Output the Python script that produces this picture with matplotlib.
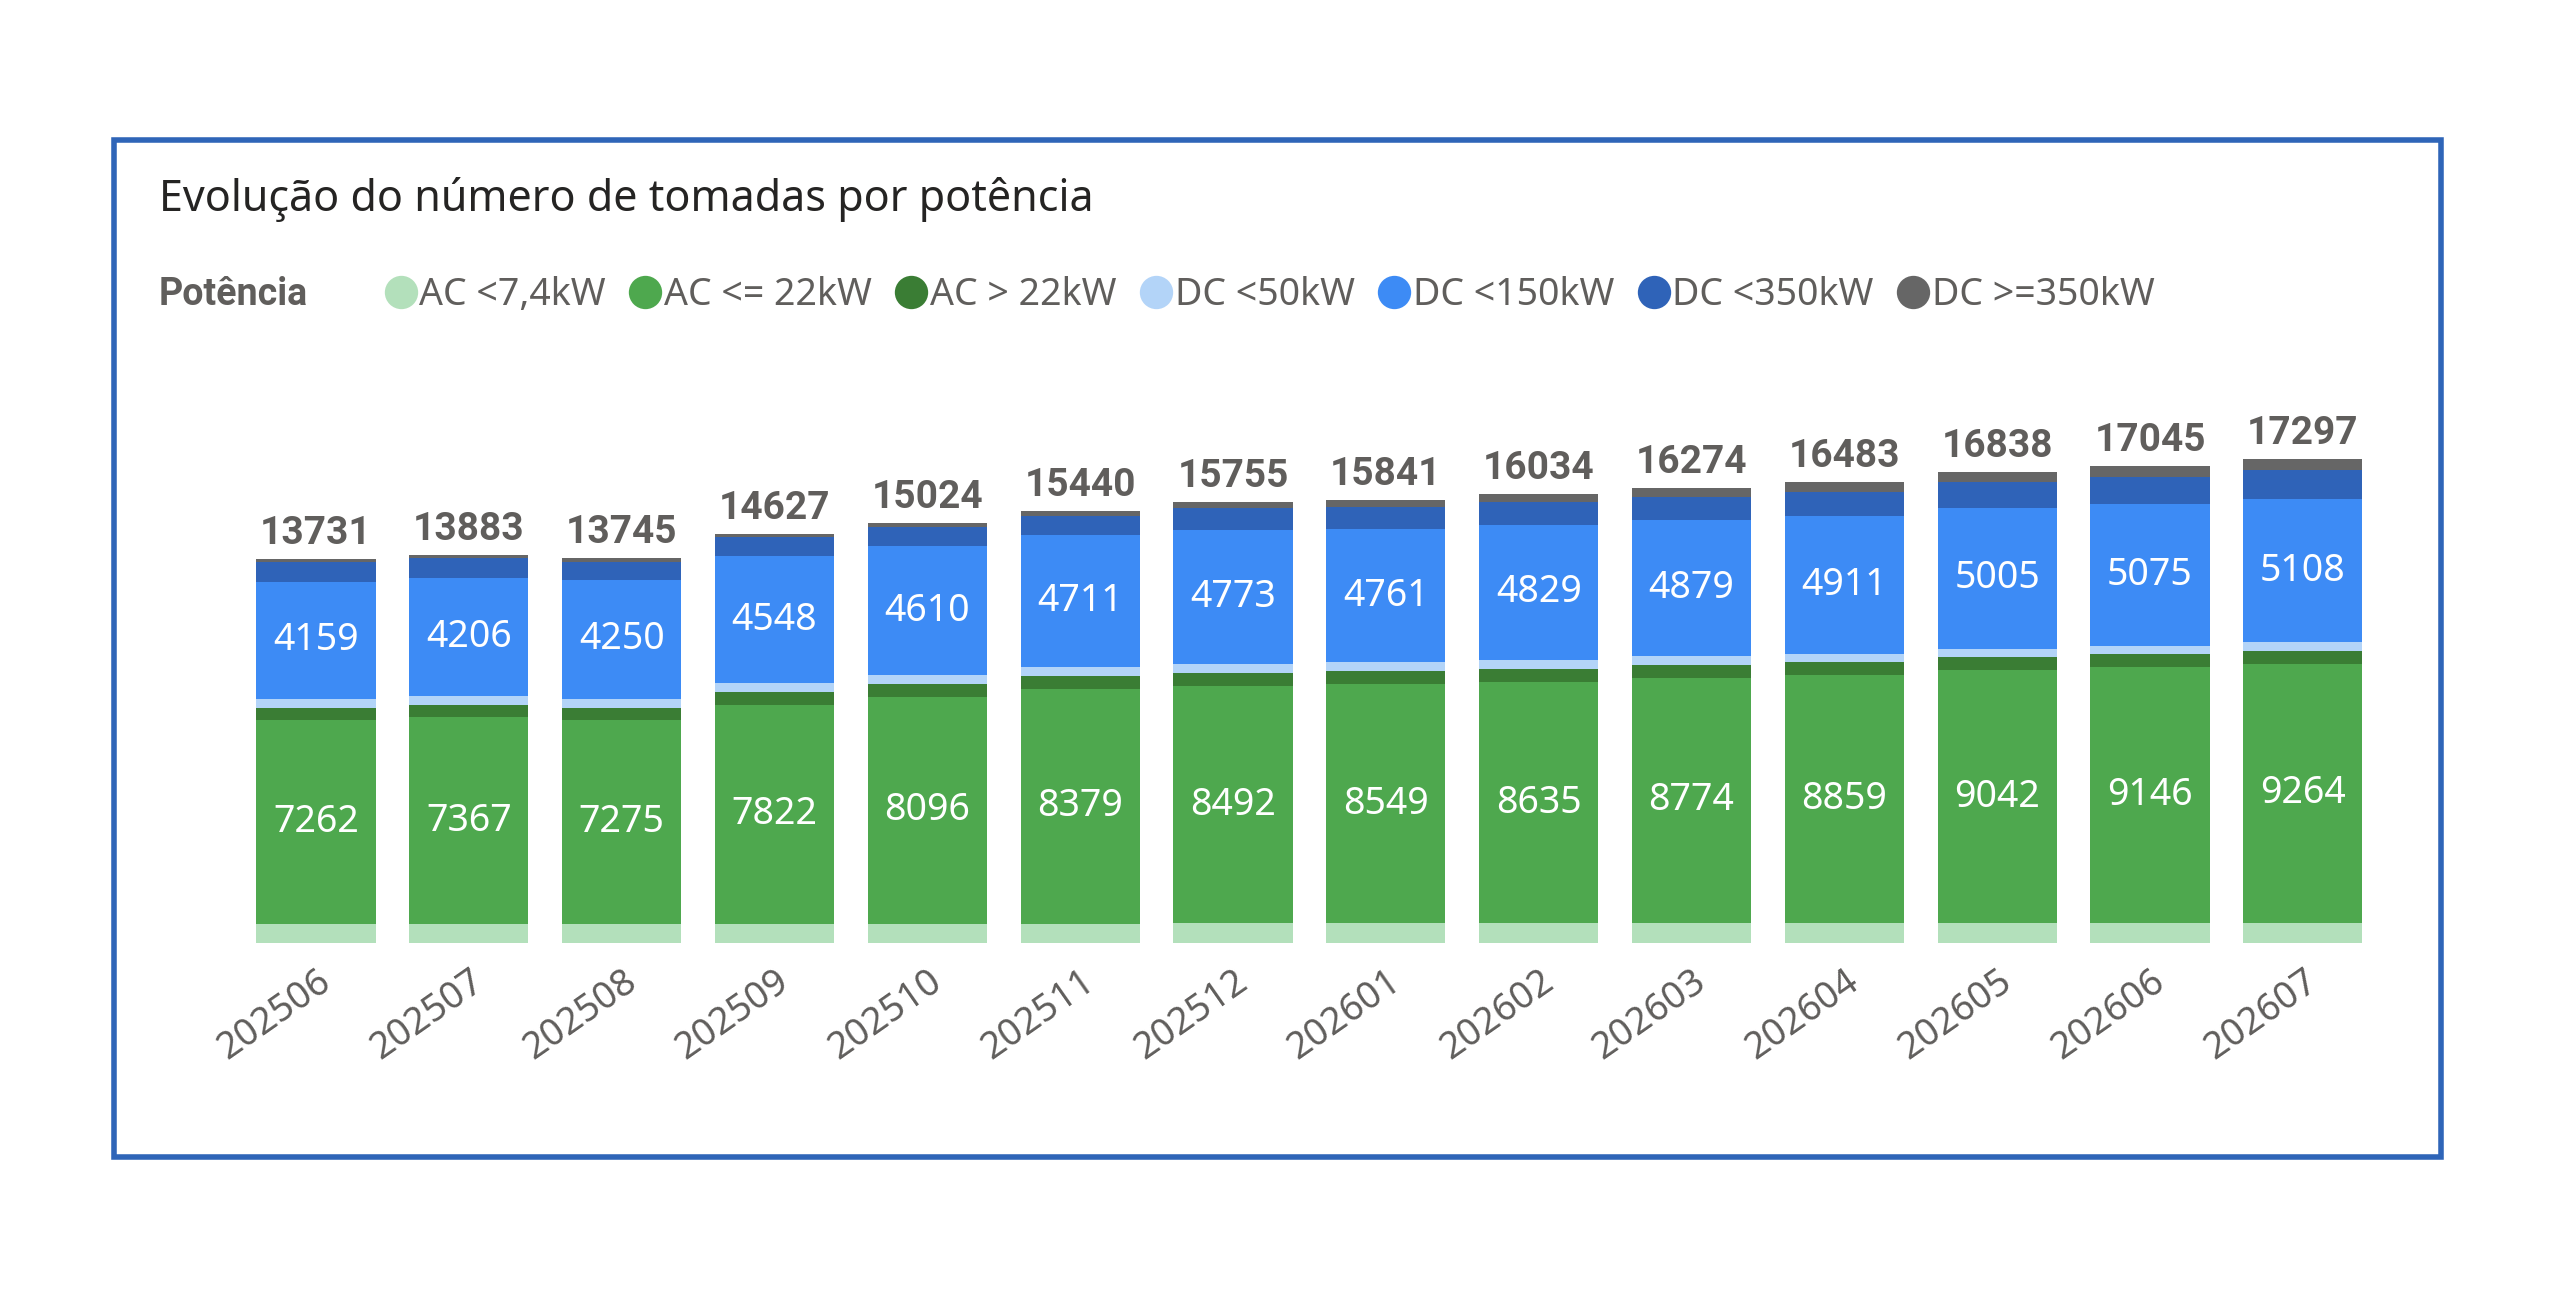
import matplotlib
matplotlib.use("Agg")
import matplotlib.pyplot as plt
from matplotlib.lines import Line2D
from matplotlib.patches import Rectangle
import numpy as np

plt.rcParams['font.family'] = ['Noto Sans', 'DejaVu Sans']

months = ["202506","202507","202508","202509","202510","202511","202512",
          "202601","202602","202603","202604","202605","202606","202607"]
totals = [13731,13883,13745,14627,15024,15440,15755,15841,16034,16274,16483,16838,17045,17297]
ac_74 = [700,700,700,700,705,705,710,710,710,715,715,720,720,720]
ac_22 = [7262,7367,7275,7822,8096,8379,8492,8549,8635,8774,8859,9042,9146,9264]
ac_gt22 = [450,450,440,440,445,450,455,455,455,455,460,460,460,460]
dc_50 = [330,330,320,320,320,320,320,320,315,310,310,305,300,300]
dc_150 = [4159,4206,4250,4548,4610,4711,4773,4761,4829,4879,4911,5005,5075,5108]
dc_ge350 = [100,110,110,130,160,180,220,260,290,320,350,380,400,400]
dc_350 = [t - a - b - c - d - e - f for t, a, b, c, d, e, f in
          zip(totals, ac_74, ac_22, ac_gt22, dc_50, dc_150, dc_ge350)]

series = [("AC <7,4kW", ac_74, "#b3e0bb"), ("AC <= 22kW", ac_22, "#4ea84e"),
          ("AC > 22kW", ac_gt22, "#3a7d34"), ("DC <50kW", dc_50, "#b3d4f8"),
          ("DC <150kW", dc_150, "#3d8bf5"), ("DC <350kW", dc_350, "#2f63b8"),
          ("DC >=350kW", dc_ge350, "#666666")]

BOLD = ['Roboto', 'Lato', 'DejaVu Sans']

fig = plt.figure(figsize=(25.6, 13.04), dpi=100)
fig.patches.append(Rectangle((0.0446, 0.1125), 0.9088, 0.78, transform=fig.transFigure,
                             fill=False, edgecolor="#2f65b8", linewidth=4))
ax = fig.add_axes([0.0936, 0.2766, 0.8358, 0.423])
x = np.arange(len(months))
bottom = np.zeros(len(months))
for name, vals, col in series:
    ax.bar(x, vals, bottom=bottom, width=0.78, color=col, edgecolor="none")
    if name in ("AC <= 22kW", "DC <150kW"):
        for xi, b, v in zip(x, bottom, vals):
            ax.text(xi, b + v / 2, str(v), ha="center", va="center", color="white", fontsize=27)
    bottom += np.array(vals)
for xi, t in zip(x, totals):
    ax.text(xi, t + 250, str(t), ha="center", va="bottom", color="#605e5c",
            fontsize=28, fontweight="bold", family=BOLD)
ax.set_xlim(-0.5, len(months) - 0.5)
ax.set_ylim(0, 19700)
ax.set_yticks([])
ax.set_xticks(x)
ax.set_xticklabels(months, rotation=35, ha="right", rotation_mode="anchor",
                   fontsize=27, color="#605e5c")
ax.tick_params(axis="x", length=0, pad=14)
for s in ax.spines.values():
    s.set_visible(False)

fig.text(0.062, 0.847, "Evolução do número de tomadas por potência", fontsize=31,
         color="#252423", va="center")
fig.text(0.062, 0.774, "Potência", fontsize=27, fontweight="bold", color="#605e5c",
         va="center", family=BOLD)
handles = [Line2D([], [], marker="o", linestyle="none", markersize=24, color=c,
                  markeredgecolor="none") for _, _, c in series]
fig.legend(handles, [n for n, _, _ in series], loc="center left", bbox_to_anchor=(0.136, 0.774),
           ncol=7, frameon=False, fontsize=27, labelcolor="#605e5c",
           handletextpad=0.0, columnspacing=0.55, handlelength=1.0)
fig.savefig("out.png", dpi=100, facecolor="white")
